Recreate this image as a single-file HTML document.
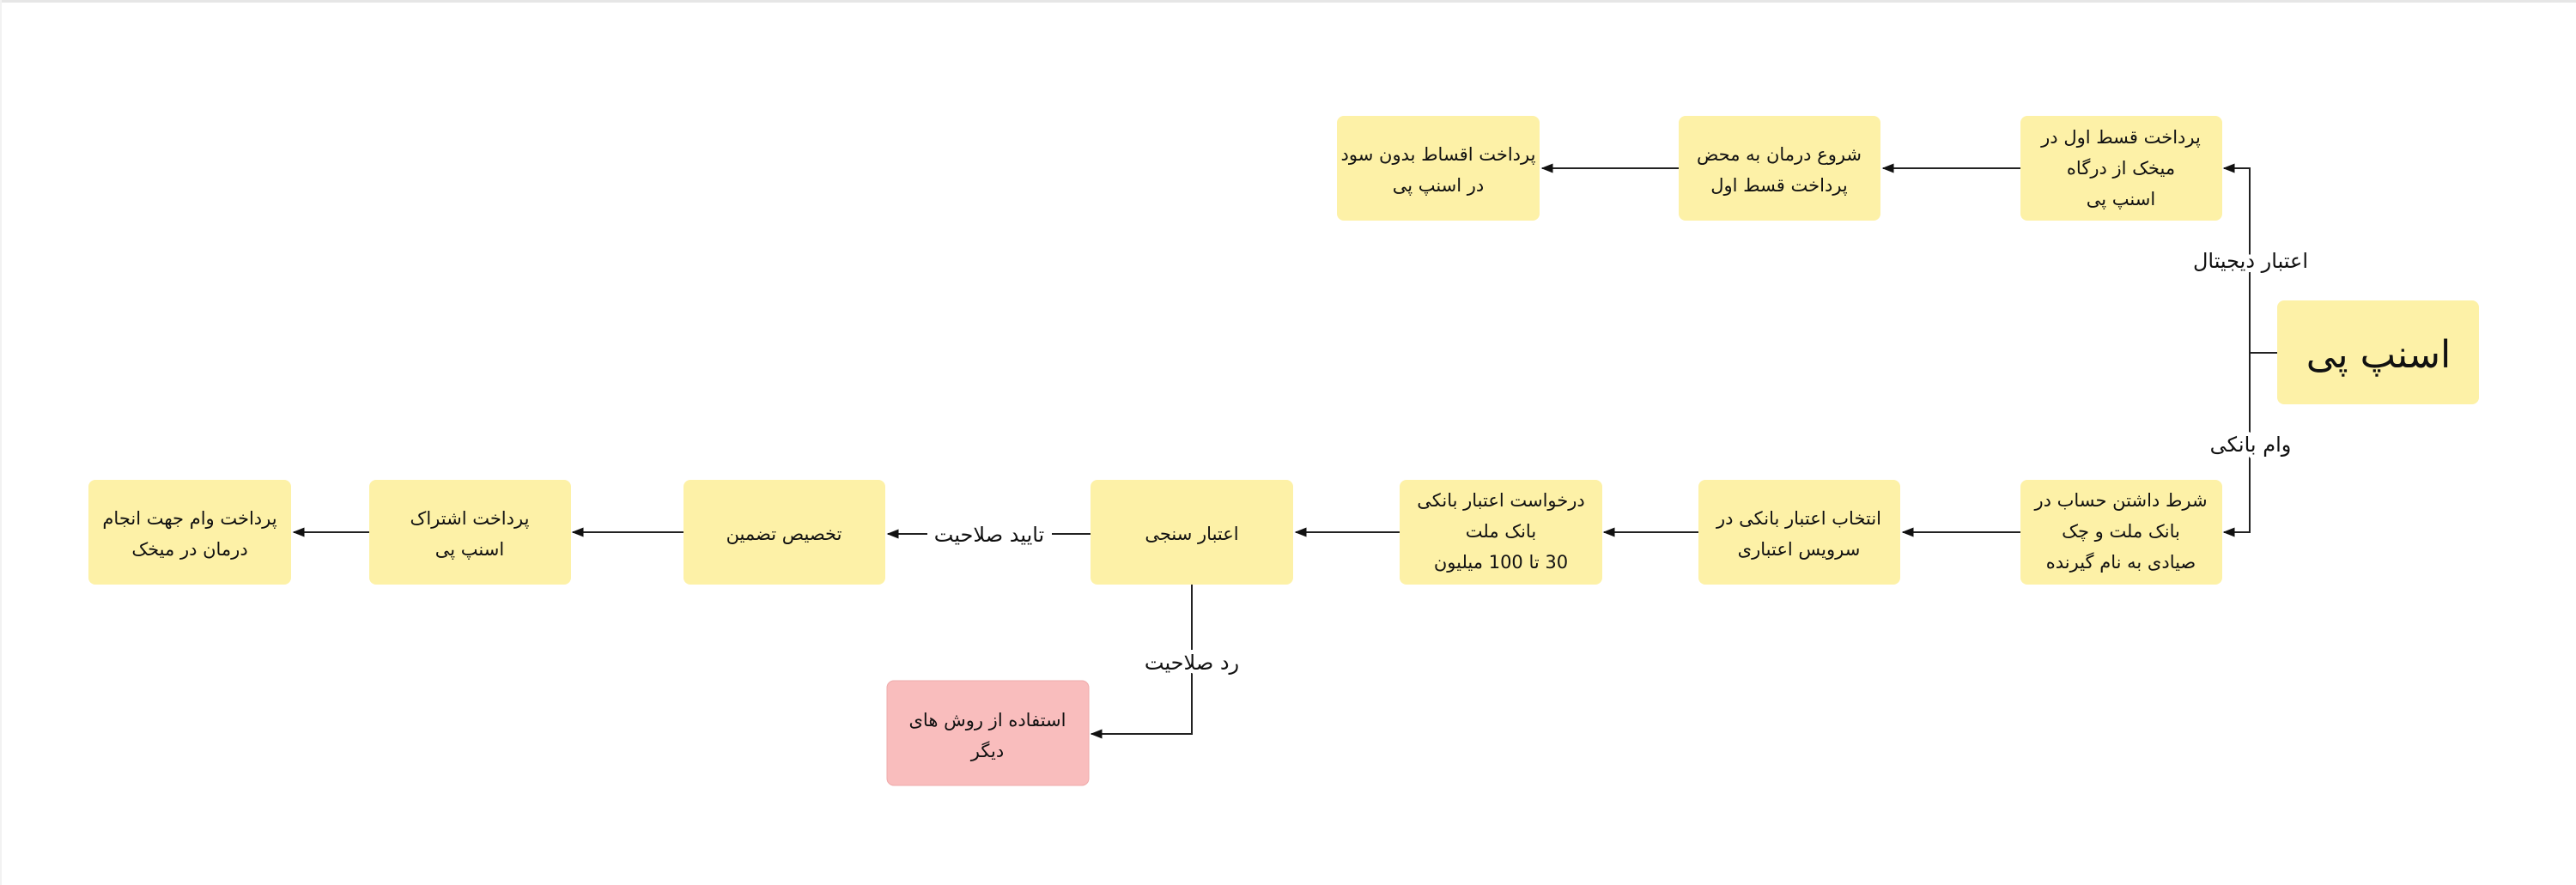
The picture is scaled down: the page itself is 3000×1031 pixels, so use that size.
<!DOCTYPE html>
<html><head><meta charset="utf-8"><style>
html,body{margin:0;padding:0;background:#fff}
body{width:3000px;height:1031px;overflow:hidden}
svg{display:block}
text{font-family:"DejaVu Sans","Liberation Sans",sans-serif;fill:#111;text-anchor:middle;direction:rtl}
.b{font-size:21px}
.l{font-size:24px;stroke:#fff;stroke-width:10px;paint-order:stroke;stroke-linejoin:round}
</style></head><body>
<svg width="3000" height="1031" viewBox="0 0 3000 1031" xmlns="http://www.w3.org/2000/svg">
<defs><marker id="a" viewBox="0 0 10 10" refX="9" refY="5" markerWidth="7" markerHeight="7" orient="auto"><path d="M0,1 L10,5 L0,9 z" fill="#111"/></marker></defs>
<rect x="0" y="0" width="3000" height="3" fill="#e6e6e6"/>
<rect x="0" y="0" width="2" height="1031" fill="#f2f2f2"/>
<g stroke="#222" stroke-width="2" fill="none">
<line x1="2652" y1="411" x2="2620" y2="411"/>
<polyline points="2620,411 2620,196 2590,196" marker-end="url(#a)"/>
<polyline points="2620,411 2620,620 2590,620" marker-end="url(#a)"/>
<line x1="2353" y1="196" x2="2193" y2="196" marker-end="url(#a)"/>
<line x1="1955" y1="196" x2="1796" y2="196" marker-end="url(#a)"/>
<line x1="2353" y1="620" x2="2216" y2="620" marker-end="url(#a)"/>
<line x1="1978" y1="620" x2="1868" y2="620" marker-end="url(#a)"/>
<line x1="1630" y1="620" x2="1509" y2="620" marker-end="url(#a)"/>
<line x1="1270" y1="622" x2="1225" y2="622"/>
<line x1="1080" y1="622" x2="1034" y2="622" marker-end="url(#a)"/>
<line x1="796" y1="620" x2="667" y2="620" marker-end="url(#a)"/>
<line x1="430" y1="620" x2="342" y2="620" marker-end="url(#a)"/>
<polyline points="1388,681 1388,855 1271,855" marker-end="url(#a)"/>
</g>
<g fill="#fdf1a7">
<rect x="2652" y="350" width="235" height="121" rx="8"/>
<rect x="2353" y="135" width="235" height="122" rx="8"/>
<rect x="1955" y="135" width="235" height="122" rx="8"/>
<rect x="1557" y="135" width="236" height="122" rx="8"/>
<rect x="2353" y="559" width="235" height="122" rx="8"/>
<rect x="1978" y="559" width="235" height="122" rx="8"/>
<rect x="1630" y="559" width="236" height="122" rx="8"/>
<rect x="1270" y="559" width="236" height="122" rx="8"/>
<rect x="796" y="559" width="235" height="122" rx="8"/>
<rect x="430" y="559" width="235" height="122" rx="8"/>
<rect x="103" y="559" width="236" height="122" rx="8"/>
</g>
<rect x="1033" y="793" width="235" height="122" rx="8" fill="#f9bdbd" stroke="#eaa" stroke-width="1"/>
<text x="2770" y="428" style="font-size:44px">اسنپ پی</text>
<text class="b" x="2470" y="167">پرداخت قسط اول در</text>
<text class="b" x="2470" y="203">میخک از درگاه</text>
<text class="b" x="2470" y="239">اسنپ پی</text>
<text class="b" x="2072" y="187">شروع درمان به محض</text>
<text class="b" x="2072" y="223">پرداخت قسط اول</text>
<text class="b" x="1675" y="187">پرداخت اقساط بدون سود</text>
<text class="b" x="1675" y="223">در اسنپ پی</text>
<text class="l" x="2621" y="312">اعتبار دیجیتال</text>
<text class="l" x="2621" y="526">وام بانکی</text>
<text class="b" x="2470" y="590">شرط داشتن حساب در</text>
<text class="b" x="2470" y="626">بانک ملت و چک</text>
<text class="b" x="2470" y="662">صیادی به نام گیرنده</text>
<text class="b" x="2095" y="611">انتخاب اعتبار بانکی در</text>
<text class="b" x="2095" y="647">سرویس اعتباری</text>
<text class="b" x="1748" y="590">درخواست  اعتبار بانکی</text>
<text class="b" x="1748" y="626">بانک ملت</text>
<text class="b" x="1748" y="662">30 تا 100 میلیون</text>
<text class="b" x="1388" y="629">اعتبار سنجی</text>
<text class="l" x="1152" y="631">تایید صلاحیت</text>
<text class="b" x="913" y="629">تخصیص تضمین</text>
<text class="b" x="547" y="611">پرداخت اشتراک</text>
<text class="b" x="547" y="647">اسنپ پی</text>
<text class="b" x="221" y="611">پرداخت وام جهت انجام</text>
<text class="b" x="221" y="647">درمان در میخک</text>
<text class="l" x="1388" y="780">رد صلاحیت</text>
<text class="b" x="1150" y="846">استفاده از روش های</text>
<text class="b" x="1150" y="882">دیگر</text>
</svg>
</body></html>
